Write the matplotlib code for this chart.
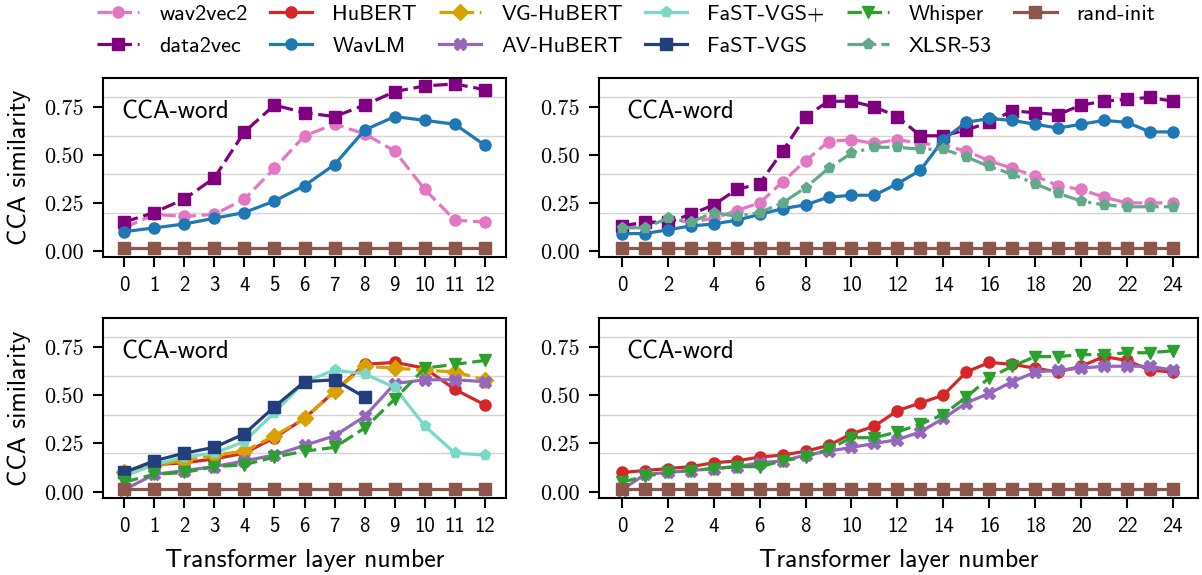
import numpy as np
import matplotlib
matplotlib.use("Agg")
import matplotlib.pyplot as plt
from matplotlib.ticker import FixedLocator, FormatStrFormatter

# layer indices
layers_base = list(range(13))
layers_large = list(range(25))

# CCA-word similarity, base-size models (12 layers)
wav2vec2_base = [0.12, 0.19, 0.18, 0.19, 0.27, 0.43, 0.60, 0.66, 0.61, 0.52, 0.32, 0.16, 0.15]
data2vec_base = [0.15, 0.20, 0.27, 0.38, 0.62, 0.76, 0.72, 0.70, 0.76, 0.83, 0.86, 0.87, 0.84]
wavlm_base = [0.10, 0.12, 0.14, 0.17, 0.20, 0.26, 0.34, 0.45, 0.63, 0.70, 0.68, 0.66, 0.55]
hubert_base = [0.10, 0.14, 0.15, 0.17, 0.20, 0.28, 0.38, 0.52, 0.66, 0.67, 0.64, 0.53, 0.45]
vg_hubert = [0.10, 0.14, 0.16, 0.19, 0.21, 0.29, 0.38, 0.52, 0.65, 0.64, 0.63, 0.62, 0.58]
av_hubert_base = [0.01, 0.09, 0.11, 0.13, 0.16, 0.19, 0.24, 0.29, 0.39, 0.56, 0.58, 0.58, 0.57]
fast_vgs_plus = [0.08, 0.14, 0.18, 0.20, 0.26, 0.41, 0.57, 0.63, 0.61, 0.54, 0.34, 0.20, 0.19]
fast_vgs = [0.10, 0.16, 0.20, 0.23, 0.30, 0.44, 0.57, 0.58, 0.49]
whisper_base = [0.05, 0.09, 0.10, 0.13, 0.14, 0.18, 0.21, 0.23, 0.33, 0.48, 0.64, 0.66, 0.68]
rand_init_base = [0.015] * 13

# CCA-word similarity, large models (24 layers)
wav2vec2_large = [0.12, 0.14, 0.16, 0.15, 0.17, 0.21, 0.25, 0.36, 0.47, 0.57, 0.58, 0.56, 0.58,
                  0.56, 0.55, 0.52, 0.47, 0.43, 0.39, 0.34, 0.32, 0.28, 0.25, 0.25, 0.25]
data2vec_large = [0.13, 0.15, 0.15, 0.19, 0.24, 0.32, 0.35, 0.52, 0.70, 0.78, 0.78, 0.75, 0.70,
                  0.60, 0.60, 0.63, 0.67, 0.73, 0.72, 0.71, 0.76, 0.78, 0.79, 0.80, 0.78]
wavlm_large = [0.09, 0.09, 0.11, 0.13, 0.14, 0.16, 0.19, 0.22, 0.24, 0.28, 0.29, 0.29, 0.35,
               0.42, 0.58, 0.67, 0.69, 0.68, 0.66, 0.64, 0.66, 0.68, 0.67, 0.62, 0.62]
xlsr53 = [0.12, 0.12, 0.17, 0.15, 0.20, 0.18, 0.20, 0.25, 0.33, 0.43, 0.51, 0.54, 0.54,
          0.53, 0.53, 0.49, 0.44, 0.40, 0.35, 0.30, 0.26, 0.24, 0.23, 0.23, 0.23]
hubert_large = [0.10, 0.11, 0.12, 0.13, 0.15, 0.16, 0.18, 0.19, 0.21, 0.24, 0.30, 0.34, 0.42,
                0.46, 0.50, 0.62, 0.67, 0.66, 0.64, 0.62, 0.65, 0.70, 0.68, 0.63, 0.62]
whisper_large = [0.05, 0.08, 0.10, 0.11, 0.12, 0.13, 0.13, 0.16, 0.18, 0.22, 0.28, 0.28, 0.31,
                 0.35, 0.40, 0.49, 0.59, 0.65, 0.70, 0.70, 0.71, 0.71, 0.72, 0.72, 0.73]
av_hubert_large = [0.01, 0.09, 0.10, 0.11, 0.12, 0.13, 0.15, 0.16, 0.19, 0.21, 0.23, 0.25, 0.27,
                   0.31, 0.38, 0.46, 0.51, 0.57, 0.62, 0.63, 0.64, 0.65, 0.65, 0.65, 0.63]
rand_init_large = [0.015] * 25

# line style per model: colour, marker, linestyle
styles = {
    "wav2vec2": ("#e377c2", "o", "--"),
    "data2vec": ("#800080", "s", "--"),
    "HuBERT": ("#d62728", "o", "-"),
    "WavLM": ("#1f77b4", "o", "-"),
    "VG-HuBERT": ("#d8a000", "D", "--"),
    "AV-HuBERT": ("#9467bd", "X", "-"),
    "FaST-VGS+": ("#7ad8c6", "p", "-"),
    "FaST-VGS": ("#233e7c", "s", "-"),
    "Whisper": ("#2ca02c", "v", "--"),
    "XLSR-53": ("#62a98b", "p", "-."),
    "rand-init": ("#8c564b", "s", "-"),
}
legend_order = ["wav2vec2", "data2vec", "HuBERT", "WavLM", "VG-HuBERT", "AV-HuBERT",
                "FaST-VGS+", "FaST-VGS", "Whisper", "XLSR-53", "rand-init"]

panels = [
    (layers_base, [("wav2vec2", wav2vec2_base), ("data2vec", data2vec_base),
                   ("WavLM", wavlm_base), ("rand-init", rand_init_base)]),
    (layers_large, [("wav2vec2", wav2vec2_large), ("data2vec", data2vec_large),
                    ("WavLM", wavlm_large), ("XLSR-53", xlsr53), ("rand-init", rand_init_large)]),
    (layers_base, [("HuBERT", hubert_base), ("VG-HuBERT", vg_hubert), ("AV-HuBERT", av_hubert_base),
                   ("FaST-VGS+", fast_vgs_plus), ("FaST-VGS", fast_vgs), ("Whisper", whisper_base),
                   ("rand-init", rand_init_base)]),
    (layers_large, [("HuBERT", hubert_large), ("AV-HuBERT", av_hubert_large),
                    ("Whisper", whisper_large), ("rand-init", rand_init_large)]),
]

plt.rcParams["font.family"] = "cmss10"
plt.rcParams["axes.unicode_minus"] = False
plt.rcParams["axes.linewidth"] = 1.5

fig = plt.figure(figsize=(12.02, 5.75), dpi=100)
rects = [
    (0.0857, 0.553, 0.3353, 0.311),
    (0.4983, 0.553, 0.4985, 0.311),
    (0.0857, 0.134, 0.3353, 0.313),
    (0.4983, 0.134, 0.4985, 0.313),
]

handles = {}
for i, (rect, (xs, series)) in enumerate(zip(rects, panels)):
    ax = fig.add_axes(rect)
    for name, vals in series:
        color, marker, ls = styles[name]
        line, = ax.plot(xs[:len(vals)], vals, color=color, marker=marker, linestyle=ls,
                        lw=2.3, ms=8, label=name)
        if ls == "--":
            line.set_dashes((4.5, 1.8))
        handles[name] = line

    n = len(xs) - 1
    if n == 12:
        ax.set_xlim(-0.7, 12.7)
        ax.set_xticks(range(0, 13))
    else:
        ax.set_xlim(-1.0, 25.1)
        ax.set_xticks(range(0, 25, 2))
    ax.set_ylim(-0.032, 0.90)
    ax.yaxis.set_major_locator(FixedLocator([0.0, 0.25, 0.5, 0.75]))
    ax.yaxis.set_major_formatter(FormatStrFormatter("%.2f"))
    ax.yaxis.set_minor_locator(FixedLocator([0.0, 0.2, 0.4, 0.6, 0.8]))
    ax.grid(which="minor", axis="y", color="#d4d4d4", lw=1.0)
    ax.set_axisbelow(True)
    ax.tick_params(axis="both", which="major", direction="out", length=7, width=1.5,
                   labelsize=15, pad=7)
    ax.tick_params(axis="y", which="major", labelfontfamily="cmr10", labelsize=16)
    ax.tick_params(axis="y", which="minor", length=0)
    ax.text(0.045, 0.81, "CCA-word", transform=ax.transAxes, fontsize=18, va="center")
    if i % 2 == 0:
        ax.set_ylabel("CCA similarity", fontsize=18.5, labelpad=9)
    if i >= 2:
        ax.set_xlabel("Transformer layer number", fontsize=18.5, labelpad=9)

fig.legend([handles[k] for k in legend_order], legend_order, loc="center",
           bbox_to_anchor=(0.521, 0.948), ncol=6, frameon=False, fontsize=16,
           handlelength=1.9, handletextpad=0.9, columnspacing=1.0, labelspacing=0.55)

fig.savefig("out.png", dpi=100)
